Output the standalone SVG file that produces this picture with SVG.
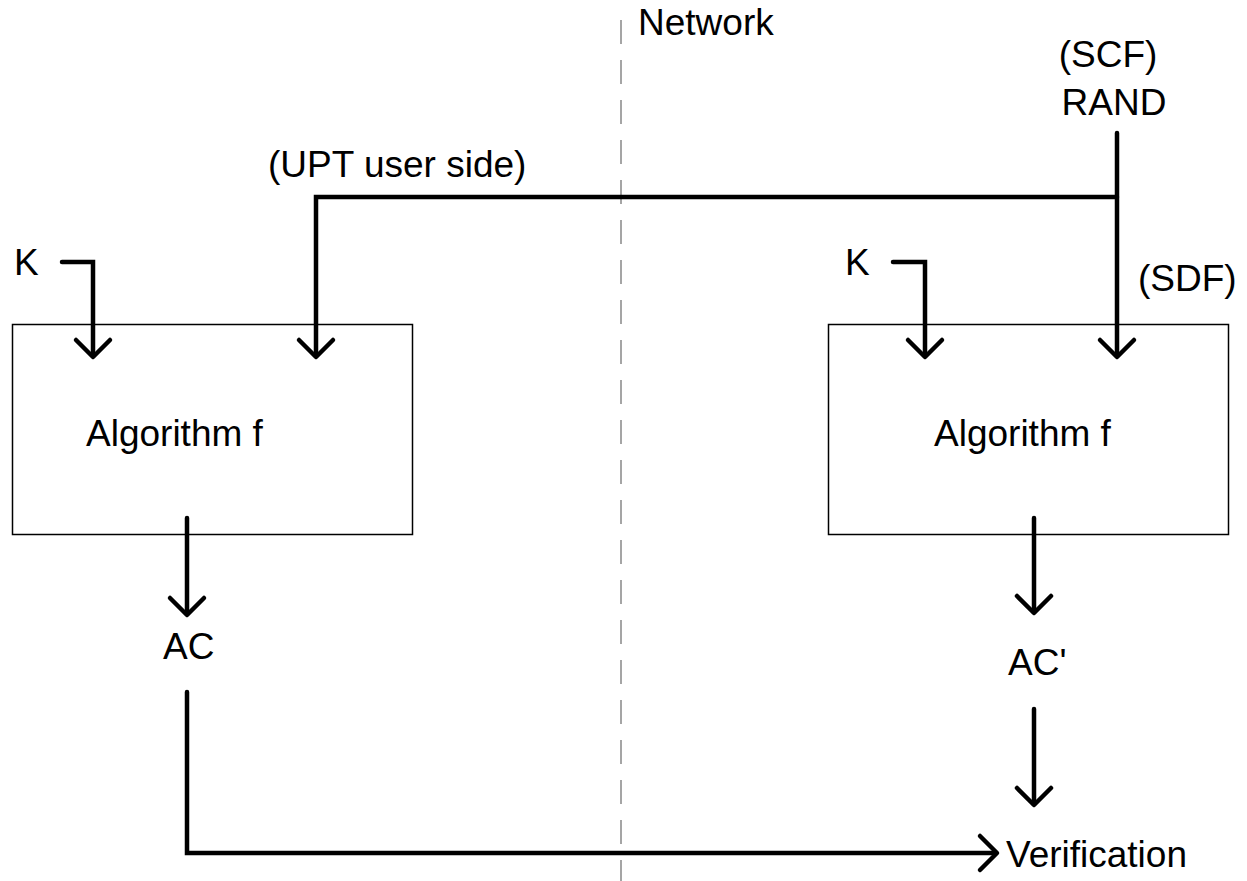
<svg xmlns="http://www.w3.org/2000/svg" width="1247" height="881" viewBox="0 0 1247 881">
<defs>
<style>
text{font-family:"Liberation Sans",Arial,sans-serif;font-size:37px;fill:#000}
.box{fill:#fff;stroke:#000;stroke-width:1.5}
.ln{fill:none;stroke:#000;stroke-width:4.5;stroke-linecap:round;stroke-linejoin:miter}
.ah{fill:none;stroke:#000;stroke-width:4.5;stroke-linecap:round;stroke-linejoin:round}
.dash{stroke:#888;stroke-width:1.5;stroke-dasharray:24 16}
</style>
</defs>
<rect width="1247" height="881" fill="#fff"/>
<line class="dash" x1="621" y1="20" x2="621" y2="881"/>
<text x="638" y="35">Network</text>
<g id="left-box"><rect class="box" x="12.5" y="324.5" width="400" height="210"/><text x="86" y="446">Algorithm f</text></g>
<g id="right-box"><rect class="box" x="828.5" y="324.5" width="400" height="210"/><text x="934" y="446">Algorithm f</text></g>
<g id="labels">
<text x="14" y="275">K</text>
<text x="845" y="275">K</text>
<text x="268" y="177">(UPT user side)</text>
<text x="1108" y="67" text-anchor="middle">(SCF)</text>
<text x="1114" y="115" text-anchor="middle">RAND</text>
<text x="1138" y="291">(SDF)</text>
<text x="163" y="659">AC</text>
<text x="1008" y="675">AC'</text>
<text x="1006" y="867">Verification</text>
</g>
<g id="connectors">
<path class="ln" d="M62 262 H93 V355"/><path class="ah" d="M76 340 L93 357 L110 340"/>
<path class="ln" d="M1117 133 V355"/><path class="ah" d="M1100 340 L1117 357 L1134 340"/>
<path class="ln" d="M1117 197 H316 V355"/><path class="ah" d="M299 340 L316 357 L333 340"/>
<path class="ln" d="M893 262 H925 V355"/><path class="ah" d="M908 340 L925 357 L942 340"/>
<path class="ln" d="M187 518 V614"/><path class="ah" d="M170 598 L187 615 L204 598"/>
<path class="ln" d="M1034 518 V612"/><path class="ah" d="M1017 596 L1034 613 L1051 596"/>
<path class="ln" d="M1034 709 V804"/><path class="ah" d="M1017 788 L1034 805 L1051 788"/>
<path class="ln" d="M187 692 V853 H996"/><path class="ah" d="M980 836 L997 853 L980 870"/>
</g>
</svg>
